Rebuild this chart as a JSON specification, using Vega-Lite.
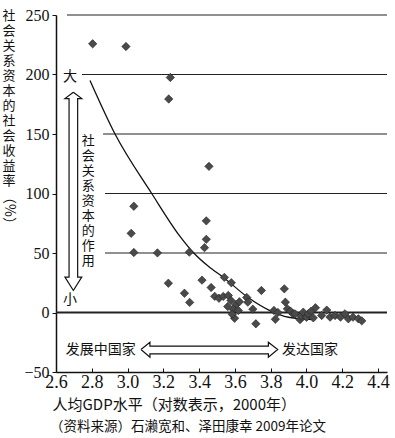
{
  "$schema": "https://vega.github.io/schema/vega-lite/v6.json",
  "width": 331,
  "height": 357,
  "autosize": {"type": "none"},
  "padding": {"left": 56, "top": 15, "right": 8, "bottom": 66},
  "background": "white",
  "title": {
    "text": "（资料来源）石濑宽和、泽田康幸 2009年论文",
    "orient": "bottom",
    "anchor": "start",
    "frame": "group",
    "dx": -6,
    "offset": 8,
    "font": "Noto Sans CJK SC",
    "fontSize": 13.5,
    "fontWeight": "normal",
    "color": "#111"
  },
  "config": {
    "view": {"stroke": null},
    "axis": {"domainColor": "#111", "tickColor": "#111", "labelColor": "#111", "titleColor": "#111", "labelOverlap": false},
    "axisX": {"labelOverlap": false}
  },
  "datasets": {
    "points": [
      {"gdp": 2.805, "ret": 225.8}, {"gdp": 2.991, "ret": 223.5}, {"gdp": 3.239, "ret": 197.5}, {"gdp": 3.23, "ret": 179.4},
      {"gdp": 3.035, "ret": 89.3}, {"gdp": 3.02, "ret": 66.5}, {"gdp": 3.035, "ret": 50.4}, {"gdp": 3.167, "ret": 50.1},
      {"gdp": 3.345, "ret": 50.7}, {"gdp": 3.455, "ret": 122.8}, {"gdp": 3.44, "ret": 77}, {"gdp": 3.44, "ret": 61.5},
      {"gdp": 3.43, "ret": 54.5}, {"gdp": 3.228, "ret": 24.6}, {"gdp": 3.318, "ret": 16.2}, {"gdp": 3.347, "ret": 8.5},
      {"gdp": 3.416, "ret": 27.2}, {"gdp": 3.467, "ret": 21}, {"gdp": 3.487, "ret": 13.6}, {"gdp": 3.511, "ret": 12},
      {"gdp": 3.535, "ret": 13.5}, {"gdp": 3.563, "ret": 14.3}, {"gdp": 3.541, "ret": 29.5}, {"gdp": 3.58, "ret": 25},
      {"gdp": 3.578, "ret": 10.1}, {"gdp": 3.605, "ret": 6.5}, {"gdp": 3.591, "ret": 2.5}, {"gdp": 3.619, "ret": 1.7},
      {"gdp": 3.598, "ret": -4.8}, {"gdp": 3.56, "ret": 5}, {"gdp": 3.585, "ret": -1.5}, {"gdp": 3.625, "ret": 9},
      {"gdp": 3.666, "ret": 12.6}, {"gdp": 3.672, "ret": 8.7}, {"gdp": 3.7, "ret": 2.8}, {"gdp": 3.717, "ret": -9.5},
      {"gdp": 3.748, "ret": 18.5}, {"gdp": 3.818, "ret": 1.7}, {"gdp": 3.826, "ret": -5.7}, {"gdp": 3.84, "ret": 0},
      {"gdp": 3.876, "ret": 19.9}, {"gdp": 3.882, "ret": 8.7}, {"gdp": 3.893, "ret": 3.1}, {"gdp": 3.91, "ret": 1.2},
      {"gdp": 3.925, "ret": -1.1}, {"gdp": 3.936, "ret": -1.1}, {"gdp": 3.964, "ret": -6}, {"gdp": 3.97, "ret": -3},
      {"gdp": 3.982, "ret": 0.3}, {"gdp": 4.0, "ret": -4}, {"gdp": 4.01, "ret": -1.1}, {"gdp": 4.025, "ret": 1},
      {"gdp": 4.05, "ret": 4}, {"gdp": 4.038, "ret": -4.5}, {"gdp": 4.085, "ret": -2.5}, {"gdp": 4.113, "ret": 2},
      {"gdp": 4.132, "ret": -3.9}, {"gdp": 4.16, "ret": -2.5}, {"gdp": 4.19, "ret": -3.9}, {"gdp": 4.215, "ret": -1.1},
      {"gdp": 4.234, "ret": -5.3}, {"gdp": 4.26, "ret": -3.9}, {"gdp": 4.29, "ret": -5.3}, {"gdp": 4.309, "ret": -7}
    ],
    "curve": [
      {"gdp": 2.79, "ret": 195}, {"gdp": 2.93, "ret": 150}, {"gdp": 3.135, "ret": 100}, {"gdp": 3.293, "ret": 64},
      {"gdp": 3.37, "ret": 50}, {"gdp": 3.45, "ret": 39}, {"gdp": 3.54, "ret": 29}, {"gdp": 3.67, "ret": 13},
      {"gdp": 3.79, "ret": 2}, {"gdp": 3.9, "ret": -4}, {"gdp": 4.05, "ret": -6}
    ],
    "grid": [
      {"ret": 250, "gdp": 2.661}, {"ret": 200, "gdp": 2.745}, {"ret": 150, "gdp": 2.863},
      {"ret": 100, "gdp": 2.874}, {"ret": 50, "gdp": 2.874}, {"ret": 0, "gdp": 2.6}
    ],
    "arrows": [
      {"arrow": "v", "o": 1, "gdp": 2.697, "ret": 185.1}, {"arrow": "v", "o": 2, "gdp": 2.744, "ret": 179.8},
      {"arrow": "v", "o": 3, "gdp": 2.721, "ret": 179.8}, {"arrow": "v", "o": 4, "gdp": 2.721, "ret": 29.7},
      {"arrow": "v", "o": 5, "gdp": 2.744, "ret": 29.7}, {"arrow": "v", "o": 6, "gdp": 2.697, "ret": 18.5},
      {"arrow": "v", "o": 7, "gdp": 2.65, "ret": 29.7}, {"arrow": "v", "o": 8, "gdp": 2.673, "ret": 29.7},
      {"arrow": "v", "o": 9, "gdp": 2.673, "ret": 179.8}, {"arrow": "v", "o": 10, "gdp": 2.65, "ret": 179.8},
      {"arrow": "v", "o": 11, "gdp": 2.697, "ret": 185.1},
      {"arrow": "h", "o": 1, "gdp": 3.075, "ret": -31.1}, {"arrow": "h", "o": 2, "gdp": 3.125, "ret": -25},
      {"arrow": "h", "o": 3, "gdp": 3.125, "ret": -28.3}, {"arrow": "h", "o": 4, "gdp": 3.787, "ret": -28.3},
      {"arrow": "h", "o": 5, "gdp": 3.787, "ret": -25}, {"arrow": "h", "o": 6, "gdp": 3.839, "ret": -31.1},
      {"arrow": "h", "o": 7, "gdp": 3.787, "ret": -37.6}, {"arrow": "h", "o": 8, "gdp": 3.787, "ret": -34.7},
      {"arrow": "h", "o": 9, "gdp": 3.125, "ret": -34.7}, {"arrow": "h", "o": 10, "gdp": 3.125, "ret": -37.6},
      {"arrow": "h", "o": 11, "gdp": 3.075, "ret": -31.1}
    ],
    "labels": [
      {"gdp": 2.678, "ret": 197.5, "label": "大"},
      {"gdp": 2.678, "ret": 10.9, "label": "小"},
      {"gdp": 2.85, "ret": -31.1, "label": "发展中国家"},
      {"gdp": 4.02, "ret": -31.1, "label": "发达国家"}
    ],
    "vlabel": [
      {"gdp": 2.78, "ret": 149.5, "label": "社\n会\n关\n系\n资\n本\n的\n作\n用"},
      {"gdp": 2.337, "ret": 254.6, "label": "社\n会\n关\n系\n资\n本\n的\n社\n会\n收\n益\n率"}
    ],
    "unit": [{"gdp": 2.337, "ret": 85.7, "label": "（%）"}]
  },
  "encoding": {
    "x": {"field": "gdp", "type": "quantitative", "scale": {"domain": [2.6, 4.45], "nice": false, "zero": false},
      "axis": {
        "values": [2.6, 2.8, 3.0, 3.2, 3.4, 3.6, 3.8, 4.0, 4.2, 4.4],
        "format": ".1f",
        "grid": false,
        "labelFont": "Liberation Sans Narrow",
        "labelFontSize": 18,
        "labelPadding": 5,
        "labelOverlap": false,
        "tickSize": -4,
        "domainWidth": 1.5,
        "labelFlush": false,
        "title": "人均GDP水平（对数表示，2000年）",
        "titleFont": "Noto Sans CJK SC",
        "titleFontSize": 15,
        "titleFontWeight": "normal",
        "titleAlign": "left",
        "titleAnchor": "start",
        "titleBaseline": "alphabetic",
        "titleX": -4,
        "titleY": 37
      }
    },
    "y": {"field": "ret", "type": "quantitative", "scale": {"domain": [-50, 250], "nice": false},
      "axis": {
        "values": [-50, 0, 50, 100, 150, 200, 250],
        "grid": false,
        "labelFont": "Liberation Sans Narrow",
        "labelFontSize": 16,
        "labelPadding": 3,
        "labelOverlap": false,
        "tickSize": 4,
        "domainWidth": 1.5,
        "labelFlush": false,
        "title": null
      }
    }
  },
  "layer": [
    {
      "data": {"name": "grid"},
      "mark": {"type": "rule", "color": "#222"},
      "encoding": {
        "x2": {"datum": 4.45},
        "strokeWidth": {"condition": {"test": "datum.ret === 0", "value": 2}, "value": 1.2}
      }
    },
    {
      "data": {"name": "curve"},
      "mark": {"type": "line", "interpolate": "monotone", "color": "#111", "strokeWidth": 1.3},
      "encoding": {}
    },
    {
      "data": {"name": "arrows"},
      "mark": {"type": "line", "color": "#111", "strokeWidth": 1.2},
      "encoding": {
        "detail": {"field": "arrow"},
        "order": {"field": "o", "type": "quantitative"}
      }
    },
    {
      "data": {"name": "points"},
      "mark": {"type": "point", "shape": "diamond", "filled": true, "size": 70, "color": "#4a4a4a", "stroke": "#222", "strokeWidth": 0.6, "opacity": 1}
    },
    {
      "data": {"name": "labels"},
      "mark": {"type": "text", "font": "Noto Sans CJK SC", "fontSize": 14, "color": "#111", "align": "center", "baseline": "middle"},
      "encoding": {"text": {"field": "label"}}
    },
    {
      "data": {"name": "vlabel"},
      "mark": {"type": "text", "font": "Noto Sans CJK SC", "fontSize": 13, "color": "#111", "lineBreak": "\n", "lineHeight": 15, "align": "center", "baseline": "top"},
      "encoding": {"text": {"field": "label"}}
    },
    {
      "data": {"name": "unit"},
      "mark": {"type": "text", "font": "Noto Sans CJK SC", "fontSize": 14, "color": "#111", "angle": 90, "align": "center", "baseline": "middle"},
      "encoding": {"text": {"field": "label"}}
    }
  ]
}
